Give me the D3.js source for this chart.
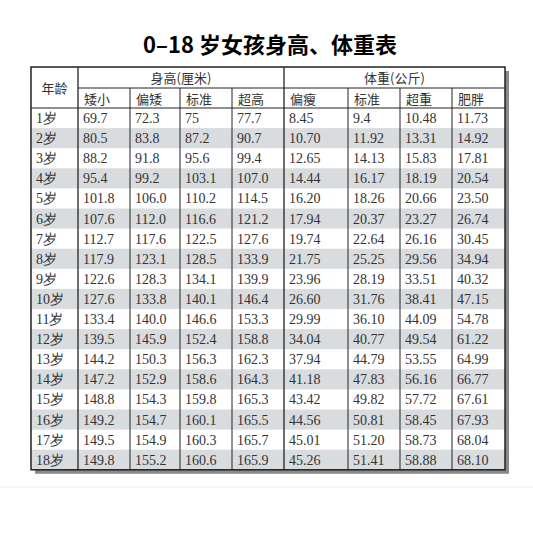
<!DOCTYPE html>
<html><head><meta charset="utf-8">
<script src="https://cdn.jsdelivr.net/npm/d3@7"></script>
<style>body{margin:0;background:#fff}</style>
</head><body>
<script>
const ages = ["1岁","2岁","3岁","4岁","5岁","6岁","7岁","8岁","9岁","10岁","11岁","12岁","13岁","14岁","15岁","16岁","17岁","18岁"];
const heightCols = ["矮小","偏矮","标准","超高"];
const weightCols = ["偏瘦","标准","超重","肥胖"];
const short = ["69.7","80.5","88.2","95.4","101.8","107.6","112.7","117.9","122.6","127.6","133.4","139.5","144.2","147.2","148.8","149.2","149.5","149.8"];
const lowH = ["72.3","83.8","91.8","99.2","106.0","112.0","117.6","123.1","128.3","133.8","140.0","145.9","150.3","152.9","154.3","154.7","154.9","155.2"];
const stdH = ["75","87.2","95.6","103.1","110.2","116.6","122.5","128.5","134.1","140.1","146.6","152.4","156.3","158.6","159.8","160.1","160.3","160.6"];
const tall = ["77.7","90.7","99.4","107.0","114.5","121.2","127.6","133.9","139.9","146.4","153.3","158.8","162.3","164.3","165.3","165.5","165.7","165.9"];
const thin = ["8.45","10.70","12.65","14.44","16.20","17.94","19.74","21.75","23.96","26.60","29.99","34.04","37.94","41.18","43.42","44.56","45.01","45.26"];
const stdW = ["9.4","11.92","14.13","16.17","18.26","20.37","22.64","25.25","28.19","31.76","36.10","40.77","44.79","47.83","49.82","50.81","51.20","51.41"];
const over = ["10.48","13.31","15.83","18.19","20.66","23.27","26.16","29.56","33.51","38.41","44.09","49.54","53.55","56.16","57.72","58.45","58.73","58.88"];
const fat = ["11.73","14.92","17.81","20.54","23.50","26.74","30.45","34.94","40.32","47.15","54.78","61.22","64.99","66.77","67.61","67.93","68.04","68.10"];
const series = [short, lowH, stdH, tall, thin, stdW, over, fat];

const svg = d3.select("body").append("svg").attr("width",533).attr("height",550)
  .style("font-family","'Liberation Serif', serif");

// column edges
const edges = [31,78,130,180,232,284,348,400,452,505];
const tableTop = 67, hdr2 = 88, body0 = 108, rowH = 20.1;
const y = d3.scaleBand().domain(ages).range([body0, body0 + rowH*ages.length]);
const bottom = body0 + rowH*ages.length;
const W = edges[9]-edges[0];

svg.append("text").attr("x",270).attr("y",53).attr("text-anchor","middle")
  .attr("font-size",22).attr("font-weight","bold")
  .style("font-family","'Noto Sans CJK SC', sans-serif").text("0–18 岁女孩身高、体重表");

// shadow
svg.append("rect").attr("x",edges[0]+4).attr("y",tableTop+4).attr("width",W).attr("height",bottom-tableTop)
  .attr("fill","#8a8a8a");
svg.append("rect").attr("x",edges[0]).attr("y",tableTop).attr("width",W).attr("height",bottom-tableTop)
  .attr("fill","#fff");

// row stripes
svg.selectAll("rect.stripe").data(ages.filter((d,i)=>i%2===1)).join("rect")
  .attr("class","stripe").attr("x",edges[0]).attr("width",W)
  .attr("y",d=>y(d)).attr("height",y.bandwidth()).attr("fill","#d9dcdf");

const g = svg.append("g").attr("stroke","#222").attr("fill","none");
g.append("rect").attr("x",edges[0]).attr("y",tableTop).attr("width",W).attr("height",bottom-tableTop).attr("stroke-width",1.5);
g.append("line").attr("x1",edges[0]).attr("x2",edges[9]).attr("y1",body0).attr("y2",body0).attr("stroke-width",1.2);
g.append("line").attr("x1",edges[1]).attr("x2",edges[9]).attr("y1",hdr2).attr("y2",hdr2);
edges.slice(1,9).forEach((x,i)=>{
  g.append("line").attr("x1",x).attr("x2",x).attr("y1",(i===0||i===4)?tableTop:hdr2).attr("y2",bottom)
   .attr("stroke-width",(i===0||i===4)?1.3:1);
});

const cjk = "'Noto Sans CJK SC', sans-serif";
svg.append("text").attr("x",(edges[0]+edges[1])/2).attr("y",(tableTop+body0)/2+5).attr("text-anchor","middle")
  .attr("font-size",13).style("font-family",cjk).attr("fill","#333").text("年龄");
svg.append("text").attr("x",(edges[1]+edges[5])/2).attr("y",83).attr("text-anchor","middle")
  .attr("font-size",13).style("font-family",cjk).attr("fill","#333").text("身高(厘米)");
svg.append("text").attr("x",(edges[5]+edges[9])/2).attr("y",83).attr("text-anchor","middle")
  .attr("font-size",13).style("font-family",cjk).attr("fill","#333").text("体重(公斤)");
heightCols.concat(weightCols).forEach((c,i)=>{
  svg.append("text").attr("x",edges[i+1]+6).attr("y",104).attr("font-size",13)
    .style("font-family",cjk).attr("fill","#333").text(c);
});

svg.selectAll("text.age").data(ages).join("text").attr("class","age")
  .attr("x",edges[0]+5).attr("y",d=>y(d)+15).attr("font-size",14).attr("fill","#333").text(d=>d);

series.forEach((vals,ci)=>{
  svg.append("g").selectAll("text").data(vals).join("text")
    .attr("x",edges[ci+1]+5).attr("y",(d,i)=>y(ages[i])+15)
    .attr("font-size",14).attr("fill","#333").text(d=>d);
});

svg.append("line").attr("x1",0).attr("x2",533).attr("y1",487).attr("y2",487).attr("stroke","#eee");
</script>
</body></html>
